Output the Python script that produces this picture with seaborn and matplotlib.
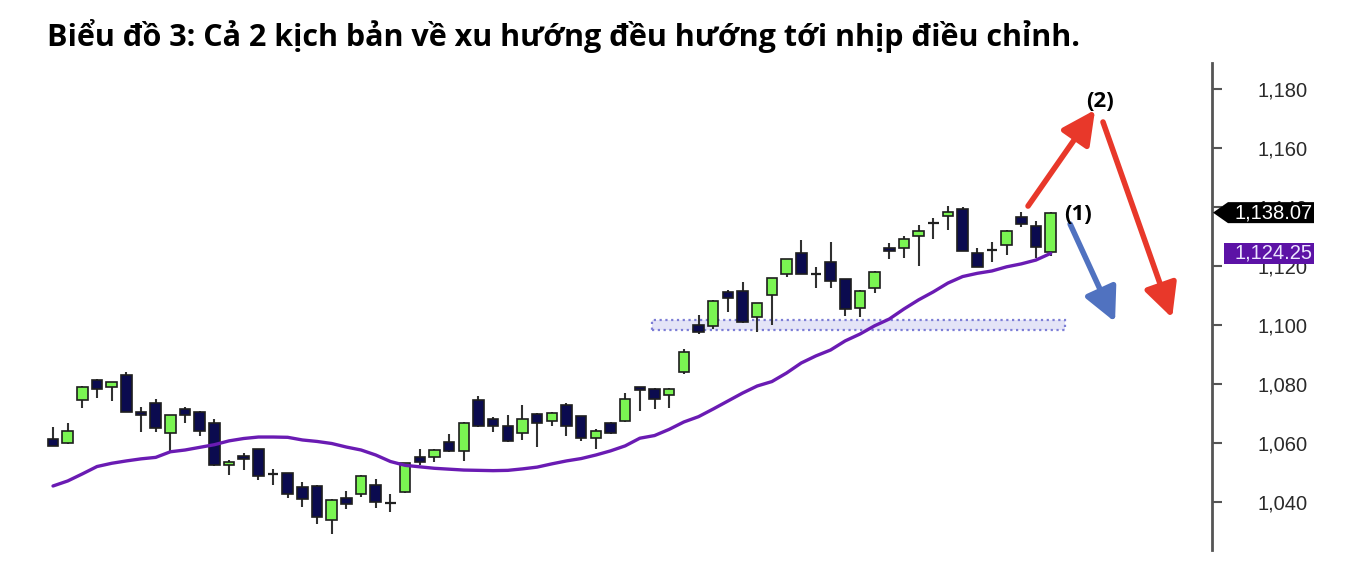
import numpy as np
import pandas as pd
import matplotlib
matplotlib.use("Agg")
import matplotlib.pyplot as plt
import seaborn as sns
from matplotlib.patches import Rectangle, Polygon

# ---------------- data ----------------
title = "Biểu đồ 3: Cả 2 kịch bản về xu hướng đều hướng tới nhịp điều chỉnh."

opens = [1061.3, 1060.0, 1074.5, 1081.4, 1078.8, 1083.1, 1070.6, 1073.7, 1063.4, 1071.5,
         1070.6, 1066.9, 1052.5, 1055.7, 1057.8, 1049.5, 1049.7, 1045.2, 1045.4, 1033.9,
         1041.3, 1042.7, 1045.9, 1039.8, 1043.3, 1055.2, 1055.2, 1060.3, 1057.4, 1074.6,
         1068.0, 1065.9, 1063.3, 1069.8, 1067.3, 1073.0, 1069.0, 1061.6, 1066.9, 1067.3,
         1078.8, 1078.3, 1076.3, 1083.9, 1100.0, 1099.7, 1111.2, 1111.6, 1102.6, 1110.0,
         1117.2, 1124.5, 1117.2, 1121.5, 1115.5, 1105.7, 1112.4, 1126.2, 1126.2, 1130.2,
         1134.5, 1137.0, 1139.2, 1124.3, 1125.4, 1127.1, 1136.7, 1133.6, 1124.8]
closes = [1059.1, 1064.2, 1079.1, 1078.3, 1080.5, 1070.6, 1069.3, 1065.0, 1069.4, 1069.3,
          1064.2, 1052.5, 1053.6, 1054.7, 1048.8, 1049.3, 1042.7, 1041.0, 1034.8, 1040.7,
          1039.3, 1048.8, 1040.1, 1039.8, 1053.1, 1053.5, 1057.6, 1057.1, 1066.9, 1065.6,
          1065.6, 1060.5, 1068.0, 1066.9, 1070.3, 1065.6, 1061.6, 1064.2, 1063.3, 1074.8,
          1077.8, 1074.9, 1078.3, 1090.7, 1097.6, 1108.2, 1109.1, 1100.9, 1107.4, 1115.8,
          1122.3, 1117.3, 1117.2, 1115.0, 1105.3, 1111.6, 1118.1, 1124.9, 1129.1, 1131.9,
          1134.5, 1138.2, 1125.1, 1119.8, 1125.4, 1131.9, 1134.3, 1126.3, 1138.07]
highs = [1065.5, 1066.9, 1079.3, 1081.6, 1080.7, 1084.0, 1072.3, 1074.9, 1069.6, 1072.1,
         1070.8, 1068.2, 1054.2, 1056.7, 1058.0, 1051.1, 1049.9, 1046.9, 1045.6, 1040.9,
         1043.7, 1049.0, 1047.7, 1042.7, 1053.3, 1057.9, 1057.8, 1063.0, 1067.1, 1075.9,
         1068.7, 1069.5, 1072.9, 1070.0, 1070.5, 1073.4, 1069.2, 1064.7, 1067.1, 1076.8,
         1079.0, 1078.5, 1078.5, 1091.8, 1103.4, 1108.4, 1111.9, 1114.7, 1107.6, 1116.0,
         1122.5, 1128.8, 1119.6, 1128.2, 1115.7, 1111.8, 1118.3, 1127.7, 1130.3, 1133.9,
         1136.2, 1140.3, 1140.1, 1126.0, 1128.0, 1132.1, 1138.4, 1135.4, 1138.3]
lows = [1059.0, 1059.8, 1071.8, 1075.2, 1074.3, 1070.4, 1063.6, 1063.8, 1057.1, 1066.7,
        1062.4, 1052.3, 1049.1, 1050.8, 1047.5, 1045.8, 1041.3, 1038.4, 1032.4, 1029.0,
        1037.6, 1041.8, 1038.1, 1036.7, 1043.1, 1052.5, 1053.4, 1056.9, 1053.9, 1065.4,
        1063.7, 1060.3, 1061.0, 1058.6, 1065.8, 1062.4, 1060.7, 1058.0, 1063.1, 1067.1,
        1070.8, 1071.4, 1071.8, 1083.3, 1097.0, 1098.5, 1104.3, 1100.7, 1097.5, 1100.0,
        1116.4, 1117.1, 1112.4, 1112.4, 1103.1, 1102.8, 1110.8, 1122.3, 1122.6, 1120.0,
        1129.1, 1132.2, 1124.9, 1119.6, 1121.5, 1123.7, 1133.3, 1122.6, 1123.5]
ma = [1045.4, 1047.1, 1049.5, 1052.0, 1053.1, 1053.9, 1054.6, 1055.1, 1057.0, 1057.6,
      1058.5, 1059.4, 1060.7, 1061.5, 1062.0, 1062.0, 1061.9, 1061.0, 1060.5, 1059.8,
      1058.6, 1057.6, 1055.9, 1053.7, 1052.4, 1051.9, 1051.4, 1051.1, 1050.8, 1050.7,
      1050.6, 1050.7, 1051.2, 1051.8, 1052.9, 1053.9, 1054.7, 1055.9, 1057.3, 1059.0,
      1061.6, 1062.5, 1064.6, 1067.1, 1068.9, 1071.5, 1074.2, 1076.9, 1079.3, 1080.8,
      1083.7, 1087.1, 1089.5, 1091.5, 1094.6, 1096.9, 1099.7, 1102.0, 1105.4, 1108.5,
      1111.2, 1114.2, 1116.4, 1117.5, 1118.3, 1119.7, 1120.7, 1122.0, 1124.25]
# doji candles drawn as crosses
doji = [15, 23, 52, 60, 64]

y_ticks = [1040, 1060, 1080, 1100, 1120, 1140, 1160, 1180]
y_tick_labels = ["1,040", "1,060", "1,080", "1,100", "1,120", "1,140", "1,160", "1,180"]

last_price = 1138.07
last_ma = 1124.25
last_price_label = "1,138.07"
last_ma_label = "1,124.25"

support_zone = (40.83, 68.98, 1098.3, 1101.7)  # x0, x1, y0, y1

# scenario arrows (tail_x, tail_y, head_x, head_y)
arrow_up2 = (66.46, 1140.3, 71.03, 1172.9)
arrow_down2 = (71.57, 1168.8, 76.28, 1102.4)
arrow_down1 = (69.33, 1134.2, 72.39, 1101.0)
label2 = ("(2)", 71.37, 1175.6)
label1 = ("(1)", 69.9, 1137.6)

# ---------------- style ----------------
sns.set_theme(style="white")
plt.rcParams['font.family'] = ['Open Sans', 'DejaVu Sans']

GREEN = "#7af552"
NAVY = "#0b0b4f"
EDGE = "#1e1e1e"
PURPLE = "#6a1bb3"
RED = "#e8382a"
BLUE = "#5072c0"

fig = plt.figure(figsize=(13.66, 5.88), dpi=100)
ax = fig.add_axes([47 / 1366, 38 / 588, (1212 - 47) / 1366, (550 - 63) / 588])

df = pd.DataFrame({"i": np.arange(len(opens)), "o": opens, "c": closes,
                   "h": highs, "l": lows, "ma": ma})
df["bull"] = df["c"] >= df["o"]
df["doji"] = df["i"].isin(doji)

# wicks
ax.vlines(df["i"], df["l"], df["h"], color="#303030", lw=1.5, zorder=2)

# bodies
body = df[~df["doji"]]
bot = np.minimum(body["o"], body["c"])
hgt = np.abs(body["c"] - body["o"])
cols = [GREEN if b else NAVY for b in body["bull"]]
ax.bar(body["i"], hgt, bottom=bot, width=0.72, color=cols, edgecolor=EDGE,
       linewidth=1.2, zorder=3)

# doji crosses
dj = df[df["doji"]]
ax.hlines(dj["o"], dj["i"] - 0.36, dj["i"] + 0.36, color="#202020", lw=1.6, zorder=3)

# moving average
sns.lineplot(data=df, x="i", y="ma", color=PURPLE, lw=2.4, ax=ax, zorder=4)

# support zone
x0, x1, y0, y1 = support_zone
ax.add_patch(Rectangle((x0, y0), x1 - x0, y1 - y0, facecolor="#e4e4f7",
                       edgecolor="#7d7ed6", lw=1.6, linestyle=(0, (1, 1.6)), zorder=1))

# arrows
def arrow(a, color):
    ax.annotate("", xy=(a[2], a[3]), xytext=(a[0], a[1]),
                arrowprops=dict(arrowstyle="-|>,head_length=1.7,head_width=0.85",
                                color=color, lw=4.0, shrinkA=0, shrinkB=0),
                zorder=6, annotation_clip=False)

arrow(arrow_up2, RED)
arrow(arrow_down2, RED)
arrow(arrow_down1, BLUE)
for t, x, y in (label2, label1):
    ax.text(x, y, t, ha="center", va="center", fontsize=16, fontweight="bold",
            color="black", family=["Open Sans", "DejaVu Sans"], zorder=7)

# axes setup
ax.set_xlim(-0.41, 79.0)
ax.set_ylim(1023.7, 1188.8)
for s in ["left", "top", "bottom"]:
    ax.spines[s].set_visible(False)
ax.spines["right"].set_color("#555555")
ax.spines["right"].set_linewidth(2)
ax.set_xticks([])
ax.yaxis.tick_right()
ax.set_yticks(y_ticks)
ax.set_yticklabels(y_tick_labels, family=["Liberation Sans"], fontsize=14.5,
                   color="#2a2a2a", ha="right")
ax.tick_params(axis="y", direction="out", length=7, width=1.5, color="#555555", pad=62)
ax.set_xlabel("")
ax.set_ylabel("")

# price tags
tr = ax.get_yaxis_transform()
def px2ax(px):
    return (px - 47) / (1212 - 47)

hh = 3.56
p1 = Polygon([(px2ax(1213), last_price), (px2ax(1228), last_price + hh),
              (px2ax(1314), last_price + hh), (px2ax(1314), last_price - hh),
              (px2ax(1228), last_price - hh)], closed=True, transform=tr,
             facecolor="black", edgecolor="none", clip_on=False, zorder=8)
ax.add_patch(p1)
t1 = ax.text(px2ax(1234), last_price, last_price_label, transform=tr, ha="left",
             va="center", color="white", fontsize=14.5, family=["Liberation Sans"],
             zorder=9, clip_on=False)
t1.set_clip_path(p1)

p2 = Rectangle((px2ax(1224), last_ma - hh), px2ax(1314) - px2ax(1224), 2 * hh,
               transform=tr, facecolor="#5c12a6", edgecolor="none", clip_on=False,
               zorder=8)
ax.add_patch(p2)
t2 = ax.text(px2ax(1234), last_ma, last_ma_label, transform=tr, ha="left",
             va="center", color="#ece6ff", fontsize=14.5, family=["Liberation Sans"],
             zorder=9, clip_on=False)
t2.set_clip_path(p2)

# title
fig.text(47 / 1366, 1 - 46 / 588, title, ha="left", va="baseline", fontsize=22,
         fontweight="bold", color="black", family=["Open Sans", "DejaVu Sans"])

fig.savefig("out.png", dpi=100, facecolor="white")
